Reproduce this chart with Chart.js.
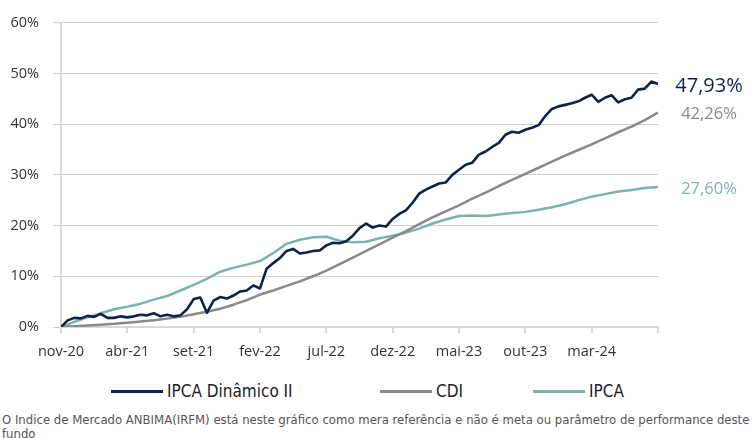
<!DOCTYPE html>
<html>
<head>
<meta charset="utf-8">
<script src="https://cdn.jsdelivr.net/npm/chart.js@4"></script>
<style>
  body { margin: 0; background: #fff; }
  #wrap { position: relative; width: 754px; height: 438px; overflow: hidden; }
  #box { position: absolute; left: 0; top: 0; width: 754px; height: 370px; }
  .leg { position: absolute; top: 381px; display: flex; align-items: center; height: 20px;
         font-family: "DejaVu Sans Condensed", "DejaVu Sans", sans-serif; font-stretch: condensed;
         font-size: 17px; color: #222; white-space: nowrap; }
  .leg i { display: inline-block; width: 52px; height: 3px; margin-right: 4px; }
  #note { position: absolute; left: 2px; top: 413px; white-space: nowrap;
          font-family: "DejaVu Sans Condensed", "DejaVu Sans", sans-serif; font-stretch: condensed;
          font-size: 13px; line-height: 14px; color: #555; }
</style>
</head>
<body>
<div id="wrap">
  <div id="box"><canvas id="chart"></canvas></div>
  <div class="leg" style="left:111px"><i style="background:#12204a"></i>IPCA Dinâmico II</div>
  <div class="leg" style="left:380px"><i style="background:#8a8a8a"></i>CDI</div>
  <div class="leg" style="left:533px"><i style="background:#7db3aa"></i>IPCA</div>
  <div id="note">O Indice de Mercado ANBIMA(IRFM) está neste gráfico como mera referência e não é meta ou parâmetro de performance deste<br>fundo</div>
</div>
<script>
// months counted from nov-20; tick every 5 months
const xTickLabels = ["nov-20", "abr-21", "set-21", "fev-22", "jul-22", "dez-22", "mai-23", "out-23", "mar-24", ""];

// IPCA Dinâmico II, twice a month (%)
const dinamico = [
  0, 1.3, 1.8, 1.7, 2.2, 2.0, 2.6, 1.8, 1.8, 2.1,
  1.9, 2.1, 2.4, 2.3, 2.7, 2.1, 2.4, 2.1, 2.3, 3.5,
  5.5, 5.8, 2.8, 5.2, 5.9, 5.6, 6.2, 7.0, 7.2, 8.2,
  7.6, 11.5, 12.6, 13.6, 15.0, 15.4, 14.5, 14.7, 15.0, 15.1,
  16.1, 16.6, 16.5, 16.9, 18.0, 19.5, 20.4, 19.6, 20.0, 19.8,
  21.3, 22.3, 23.0, 24.5, 26.3, 27.1, 27.7, 28.3, 28.5, 30.0,
  31.0, 32.0, 32.4, 34.0, 34.6, 35.5, 36.3, 37.9, 38.5, 38.3,
  38.9, 39.3, 39.8, 41.6, 43.0, 43.5, 43.8, 44.1, 44.5, 45.2,
  45.8, 44.4, 45.2, 45.7, 44.3, 44.9, 45.2, 46.8, 47.0, 48.4,
  47.93
];

// CDI, monthly (%)
const cdi = [
  0, 0.15, 0.3, 0.45, 0.62, 0.85, 1.1, 1.35, 1.65, 2.0,
  2.5, 3.0, 3.6, 4.4, 5.3, 6.4, 7.2, 8.1, 9.0, 10.0,
  11.1, 12.4, 13.7, 15.0, 16.3, 17.6, 18.9, 20.3, 21.6, 22.8,
  24.0, 25.3, 26.5, 27.8, 29.0, 30.2, 31.4, 32.6, 33.8, 34.9,
  36.0, 37.2, 38.4, 39.5, 40.8, 42.26
];

// IPCA, monthly (%)
const ipca = [
  0, 1.0, 1.9, 2.7, 3.5, 4.0, 4.6, 5.4, 6.1, 7.2,
  8.3, 9.5, 10.9, 11.7, 12.3, 13.0, 14.6, 16.4, 17.2, 17.7,
  17.8, 17.0, 16.7, 16.8, 17.5, 18.0, 18.6, 19.4, 20.4, 21.2,
  21.9, 22.0, 21.9, 22.2, 22.5, 22.7, 23.1, 23.6, 24.2, 25.0,
  25.7, 26.2, 26.7, 27.0, 27.4, 27.6
];

const toPoints = (values, step) => values.map((v, i) => ({ x: i * step, y: v }));

const endLabels = {
  id: "endLabels",
  afterDatasetsDraw(chart) {
    const { ctx, chartArea } = chart;
    chart.data.datasets.forEach((ds, i) => {
      const pts = chart.getDatasetMeta(i).data;
      const last = pts[pts.length - 1];
      const val = ds.data[ds.data.length - 1].y;
      ctx.save();
      ctx.font = (i === 0 ? "20px" : "16.5px") + " 'Open Sans', sans-serif";
      ctx.fillStyle = ds.borderColor;
      ctx.textAlign = "center";
      ctx.textBaseline = "middle";
      ctx.fillText(val.toFixed(2).replace(".", ",") + "%", chartArea.right + 51, last.y + 2);
      ctx.restore();
    });
  }
};

new Chart(document.getElementById("chart"), {
  type: "line",
  data: {
    datasets: [
      { label: "IPCA Dinâmico II", data: toPoints(dinamico, 0.5), borderColor: "#12204a", borderWidth: 2.6 },
      { label: "CDI", data: toPoints(cdi, 1), borderColor: "#8a8a8a", borderWidth: 2.5 },
      { label: "IPCA", data: toPoints(ipca, 1), borderColor: "#7db3aa", borderWidth: 2.5 }
    ]
  },
  options: {
    responsive: true,
    maintainAspectRatio: false,
    animation: false,
    layout: { padding: { top: 18, right: 96, left: 0, bottom: 0 } },
    elements: { point: { radius: 0 }, line: { tension: 0, borderJoinStyle: "round" } },
    plugins: { legend: { display: false }, tooltip: { enabled: false } },
    scales: {
      x: {
        type: "linear",
        min: 0,
        max: 45,
        afterFit: (s) => { s.height = 43; },
        border: { color: "#d9d9d9", width: 2 },
        grid: { drawOnChartArea: false, drawTicks: true, tickLength: 6, color: "#d9d9d9", lineWidth: 2 },
        ticks: {
          stepSize: 5,
          autoSkip: false,
          maxRotation: 0,
          padding: 10,
          color: "#333",
          font: { family: "'Open Sans', sans-serif", size: 14.5 },
          callback: (v) => xTickLabels[v / 5] ?? ""
        }
      },
      y: {
        min: 0,
        max: 60,
        afterFit: (s) => { s.width = 61; },
        border: { color: "#d9d9d9", width: 2 },
        grid: { color: "#cfcfcf", lineWidth: 1, borderDash: [2, 2], tickLength: 8, tickBorderDash: [] },
        ticks: {
          stepSize: 10,
          padding: 14,
          color: "#333",
          font: { family: "'Open Sans', sans-serif", size: 14.5 },
          callback: (v) => v + "%"
        }
      }
    }
  },
  plugins: [endLabels]
});
</script>
</body>
</html>
